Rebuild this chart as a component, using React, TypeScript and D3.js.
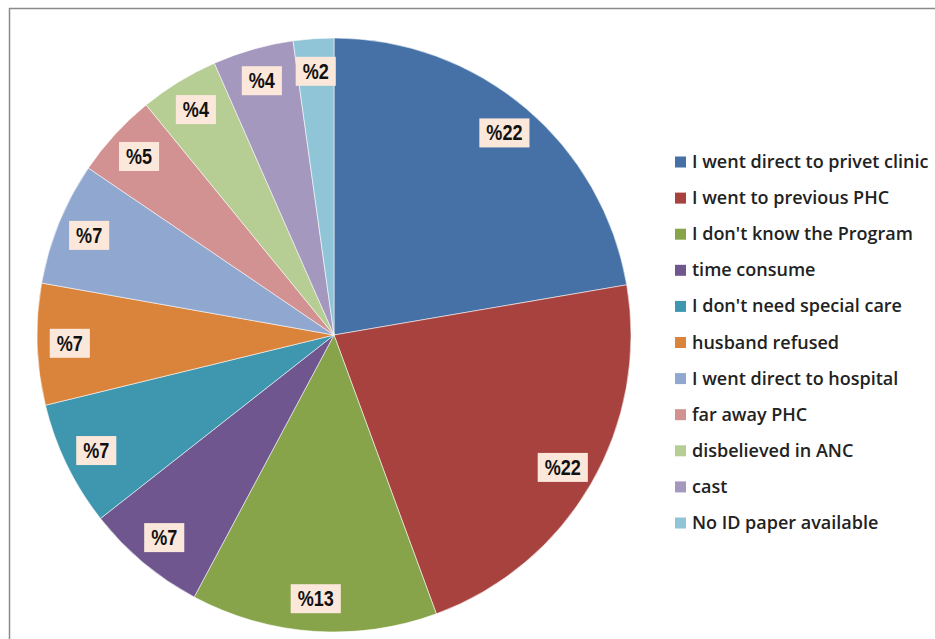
import React, { useEffect, useRef } from "react";
import * as d3 from "d3";

const categories = [
  "I went direct to privet clinic",
  "I went to previous PHC",
  "I don't know the Program",
  "time consume",
  "I don't need special care",
  "husband refused",
  "I went direct to hospital",
  "far away PHC",
  "disbelieved in ANC",
  "cast",
  "No ID paper available",
];
const values = [22.3, 22.1, 13.4, 6.6, 6.8, 6.6, 6.7, 4.6, 4.3, 4.4, 2.2];
const labels = ["%22", "%22", "%13", "%7", "%7", "%7", "%7", "%5", "%4", "%4", "%2"];
const colors = [
  "#4671A6", "#A8423F", "#87A44B", "#6F568F", "#3F97AF", "#DA843B",
  "#90A8D0", "#D29291", "#B6CD93", "#A598BE", "#8FC5D6",
];

export default function App() {
  const ref = useRef<SVGSVGElement>(null);

  useEffect(() => {
    const svg = d3.select(ref.current);
    svg.selectAll("*").remove();
    const W = 935, H = 639;
    const cx = 334, cy = 335, r = 297;

    // frame (top and left lines)
    svg.append("line").attr("x1", 9).attr("y1", 8.5).attr("x2", W).attr("y2", 8.5)
      .attr("stroke", "#8a8a8a").attr("stroke-width", 1.5);
    svg.append("line").attr("x1", 9.5).attr("y1", 8).attr("x2", 9.5).attr("y2", H)
      .attr("stroke", "#8a8a8a").attr("stroke-width", 1.5);

    const pie = d3.pie<number>().sort(null).value((d) => d);
    const arcs = pie(values);
    const arc = d3.arc<d3.PieArcDatum<number>>().innerRadius(0).outerRadius(r);
    const labelArc = d3.arc<d3.PieArcDatum<number>>().innerRadius(r * 0.89).outerRadius(r * 0.89);

    const g = svg.append("g").attr("transform", `translate(${cx},${cy})`);
    g.selectAll("path.slice").data(arcs).enter().append("path")
      .attr("class", "slice")
      .attr("d", arc as any)
      .attr("fill", (_d, i) => colors[i])
      .attr("stroke", "rgba(255,255,255,0.55)")
      .attr("stroke-width", 1);

    const lg = g.selectAll("g.lbl").data(arcs).enter().append("g")
      .attr("class", "lbl")
      .attr("transform", (d) => `translate(${labelArc.centroid(d)})`);
    const texts = lg.append("text")
      .attr("text-anchor", "middle")
      .attr("y", 7.5)
      .attr("transform", "scale(0.84,1)")
      .attr("font-family", "Liberation Sans, Arial, sans-serif")
      .attr("font-weight", "bold")
      .attr("font-size", 21.5)
      .attr("fill", "#111")
      .text((_d, i) => labels[i]);
    texts.each(function () {
      const t = this as SVGTextElement;
      const bb = t.getBBox();
      const w = bb.width * 0.84;
      d3.select(t.parentNode as SVGGElement).insert("rect", "text")
        .attr("x", -w / 2 - 7).attr("y", -14.5)
        .attr("width", w + 14).attr("height", 29)
        .attr("fill", "#FCE8DA");
    });

    // legend
    const ly0 = 162, step = 36.1;
    const leg = svg.append("g");
    categories.forEach((c, i) => {
      const y = ly0 + i * step;
      leg.append("rect").attr("x", 675).attr("y", y - 5.5).attr("width", 11).attr("height", 11)
        .attr("fill", colors[i]);
      leg.append("text").attr("x", 692).attr("y", y + 6)
        .attr("font-family", "Open Sans, sans-serif")
        .attr("font-weight", 600)
        .attr("font-size", 18)
        .attr("fill", "#222")
        .text(c);
    });
  }, []);

  return (
    <svg ref={ref} width={935} height={639} style={{ position: "absolute", left: 0, top: 0, background: "#fff" }} />
  );
}
